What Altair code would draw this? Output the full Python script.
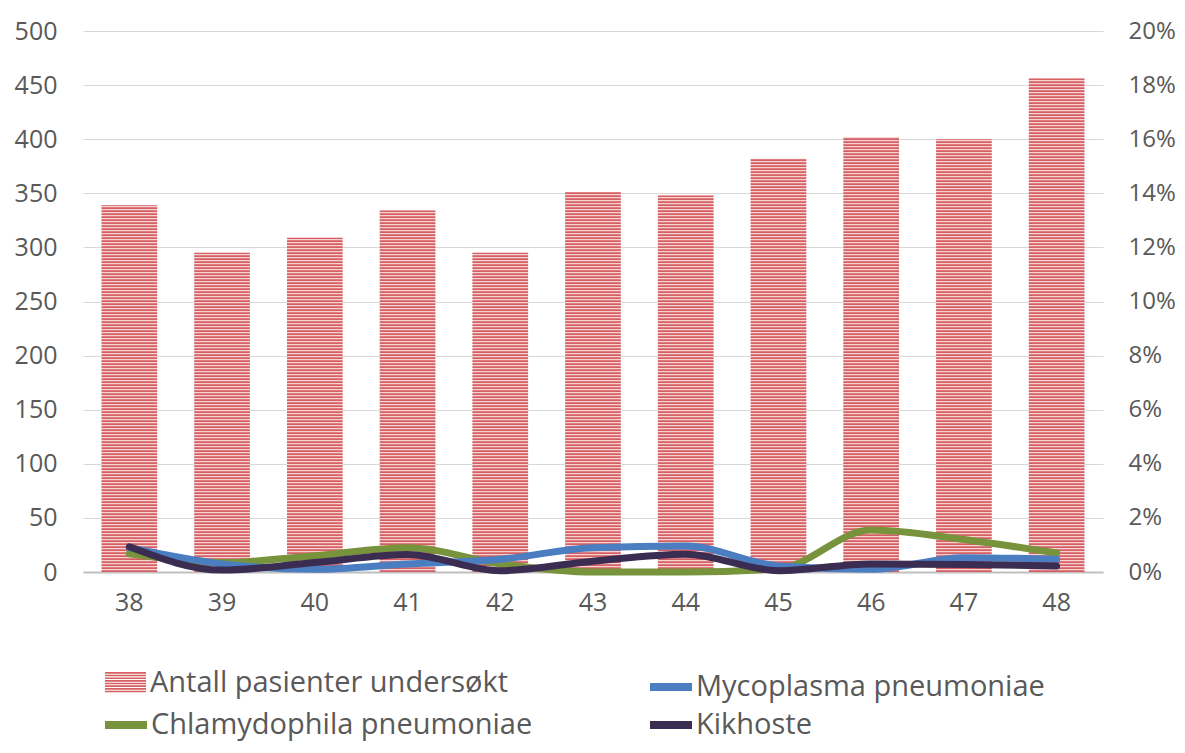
import altair as alt
import pandas as pd

weeks = [38, 39, 40, 41, 42, 43, 44, 45, 46, 47, 48]
antall = [339, 295, 309, 334, 295, 351, 348, 382, 402, 400, 456]
mycoplasma = [0.0090, 0.0030, 0.0010, 0.0030, 0.0047, 0.0090, 0.0096, 0.0022, 0.0010, 0.0053, 0.0047]
chlamydophila = [0.0067, 0.0035, 0.0060, 0.0090, 0.0030, 0.0000, 0.0000, 0.0012, 0.0155, 0.0120, 0.0070]
kikhoste = [0.0093, 0.0007, 0.0035, 0.0065, 0.0005, 0.0040, 0.0066, 0.0005, 0.0030, 0.0028, 0.0022]

names = ["Antall pasienter undersøkt", "Mycoplasma pneumoniae", "Chlamydophila pneumoniae", "Kikhoste"]
colors = ["#D65F63", "#4A7EC1", "#77933C", "#3B2C52"]
left_ticks = [0, 50, 100, 150, 200, 250, 300, 350, 400, 450, 500]
right_ticks = [0, 0.02, 0.04, 0.06, 0.08, 0.10, 0.12, 0.14, 0.16, 0.18, 0.20]

df = pd.DataFrame({
    "week": weeks,
    "antall": antall,
    "myco": mycoplasma,
    "chlam": chlamydophila,
    "kik": kikhoste,
})

FONT = "Open Sans"
AX_FS = 25
LEG_FS = 29
W, H = 1020, 541
PERIOD = 3 * 500 / H          # 3 px stripe period in data units
THICK = 1.8 * 500 / H         # red stripe thickness

# striped legend symbol path (unit square -1..1)
parts = []
y0 = -0.51
while y0 < 0.51:
    parts.append(f"M-1,{y0:.3f}h2v0.08h-2z")
    y0 += 0.13
stripe_path = " ".join(parts)

x_enc = alt.X("week:O", scale=alt.Scale(paddingInner=0.4, paddingOuter=0.2),
              axis=alt.Axis(title=None, labelAngle=0, ticks=False, grid=False,
                            domainColor="#BFBFBF", domainWidth=2,
                            labelFont=FONT, labelFontSize=AX_FS, labelColor="#595959",
                            labelPadding=18))

left_axis = alt.Axis(title=None, values=left_ticks, domain=False, ticks=False,
                     grid=True, gridColor="#D9D9D9", gridWidth=1.2,
                     labelFont=FONT, labelFontSize=AX_FS, labelColor="#595959",
                     labelPadding=26)
right_axis = alt.Axis(title=None, values=right_ticks, format=".0%", orient="right",
                      domain=False, ticks=False, grid=False,
                      labelFont=FONT, labelFontSize=24, labelColor="#595959",
                      labelPadding=25, labelLimit=0)

def legend(x, y, symbol, stroke=False):
    kw = dict(orient="none", legendX=x, legendY=y, title=None,
              labelFont=FONT, labelFontSize=LEG_FS, labelColor="#595959", labelLimit=0,
              symbolType=symbol, padding=0)
    if stroke:
        kw["symbolStrokeWidth"] = 8
        kw["symbolSize"] = 1764
        kw["labelOffset"] = 0
    else:
        kw["symbolStrokeWidth"] = 0
        kw["symbolSize"] = 1681
        kw["labelOffset"] = 4
    return alt.Legend(**kw)

ROW1, ROW2 = 631, 669

base = alt.Chart(df)

bars = base.mark_bar(color="#F5D3D3").encode(
    x=x_enc,
    y=alt.Y("antall:Q", scale=alt.Scale(domain=[0, 500]), axis=left_axis),
)

stripes = base.transform_calculate(
    s=f"sequence(0, datum.antall, {PERIOD})"
).transform_flatten(["s"]).transform_calculate(
    s2=f"min(datum.s + {THICK}, datum.antall)",
    name=f"'{names[0]}'",
).mark_bar().encode(
    x=x_enc,
    y=alt.Y("s:Q", scale=alt.Scale(domain=[0, 500]), axis=left_axis),
    y2="s2:Q",
    color=alt.Color("name:N", scale=alt.Scale(domain=[names[0]], range=[colors[0]]),
                    legend=legend(22, ROW1, stripe_path)),
)

left = alt.layer(bars, stripes)

def line(field, i, lx, ly):
    return base.transform_calculate(name=f"'{names[i]}'").mark_line(
        strokeWidth=7, interpolate="monotone", strokeCap="round", strokeJoin="round"
    ).encode(
        x=x_enc,
        y=alt.Y(f"{field}:Q", scale=alt.Scale(domain=[0, 0.2]), axis=right_axis),
        color=alt.Color("name:N", scale=alt.Scale(domain=[names[i]], range=[colors[i]]),
                        legend=legend(lx, ly, "stroke", stroke=True)),
    )

right = alt.layer(
    line("chlam", 2, 18, ROW2),
    line("myco", 1, 563, ROW1),
    line("kik", 3, 563, ROW2),
).resolve_scale(color="independent").resolve_legend(color="independent")

chart = alt.layer(left, right).resolve_scale(
    y="independent", color="independent"
).resolve_legend(color="independent").properties(
    width=W, height=H,
    autosize=alt.AutoSizeParams(type="none"),
    padding={"left": 75, "top": 23, "right": 74, "bottom": 173},
    background="white",
).configure_view(stroke=None)

chart.save("out.html", embed_options={"renderer": "svg", "actions": False})
